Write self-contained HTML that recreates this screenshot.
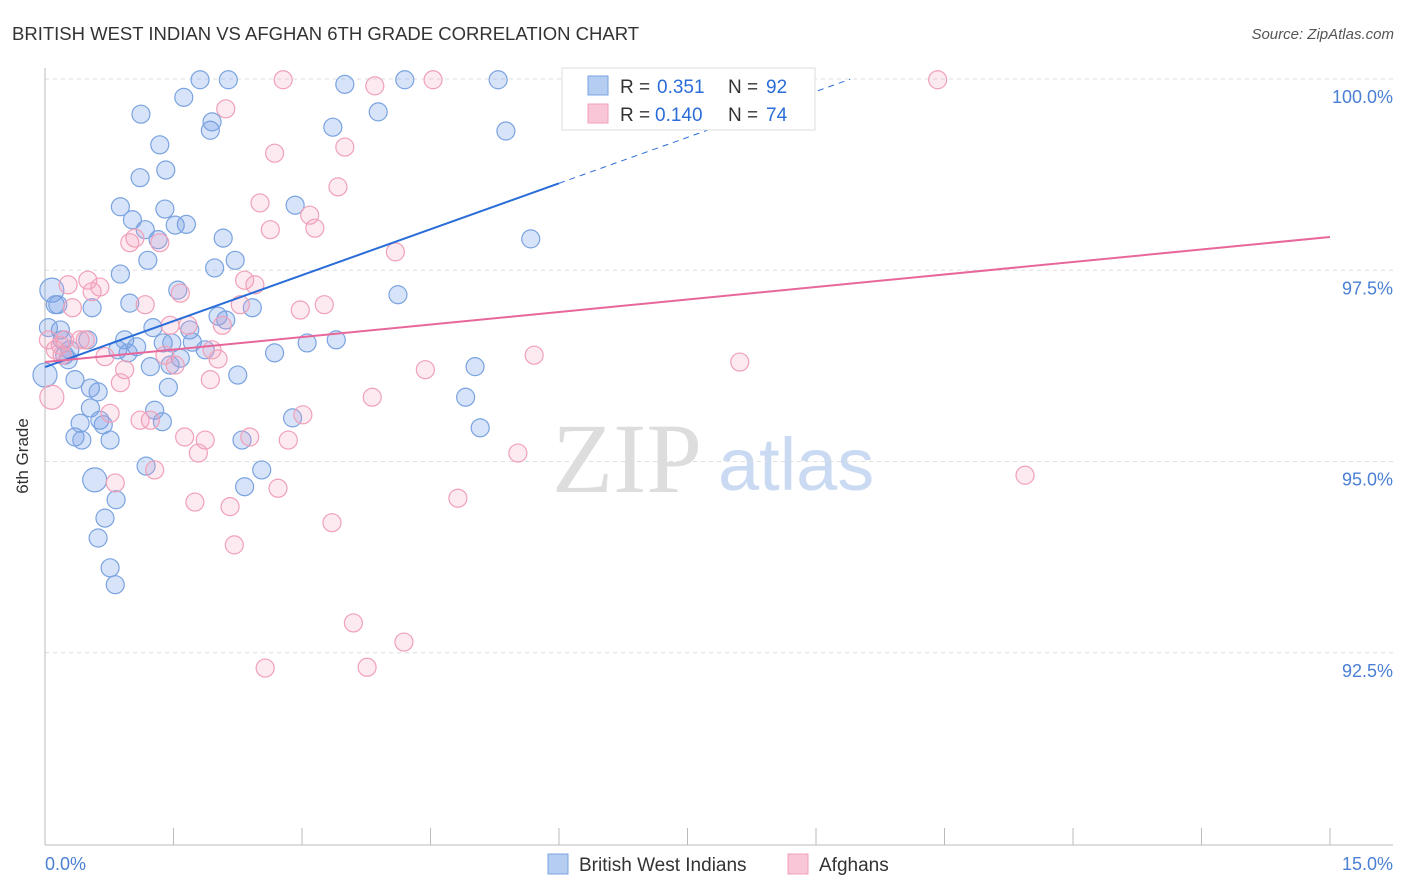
<!DOCTYPE html>
<html><head><meta charset="utf-8">
<style>
body{margin:0;background:#fff;font-family:"Liberation Sans",sans-serif;}
svg{display:block}
</style></head>
<body>
<svg id="chart" width="1406" height="892">
<text x="12" y="40" font-size="18.5" fill="#333">BRITISH WEST INDIAN VS AFGHAN 6TH GRADE CORRELATION CHART</text>
<text x="1394" y="39" font-size="15" fill="#555" font-style="italic" text-anchor="end">Source: ZipAtlas.com</text>
<text x="28" y="456" font-size="17" fill="#333" text-anchor="middle" transform="rotate(-90 28 456)">6th Grade</text>
<g>
<text x="552" y="492" font-size="100" fill="#ddd" font-family="Liberation Serif,serif">ZIP</text>
<text x="718" y="490" font-size="74" fill="#c9daf2">atlas</text>
</g>
<g id="grid"></g>
<g id="axes"></g>
<g id="pts"></g>
<g id="lines"></g>
<g>
<rect x="562" y="68" width="253" height="62" fill="#fff" stroke="#ddd"/>
<rect x="588" y="76" width="20" height="19" fill="#b6cdf2" stroke="#7aa3e0"/>
<rect x="588" y="104" width="20" height="19" fill="#f8c6d6" stroke="#f0a0b8"/>
<text x="620" y="93" font-size="19" fill="#333">R =</text>
<text x="657" y="93" font-size="19" fill="#2a6dd9">0.351</text>
<text x="728" y="93" font-size="19" fill="#333">N =</text>
<text x="766" y="93" font-size="19" fill="#2a6dd9">92</text>
<text x="620" y="121" font-size="19" fill="#333">R =</text>
<text x="655" y="121" font-size="19" fill="#2a6dd9">0.140</text>
<text x="728" y="121" font-size="19" fill="#333">N =</text>
<text x="766" y="121" font-size="19" fill="#2a6dd9">74</text>
</g>
<g>
<rect x="548" y="854" width="20" height="20" fill="#b6cdf2" stroke="#7aa3e0"/>
<text x="579" y="871" font-size="19" fill="#333">British West Indians</text>
<rect x="788" y="854" width="20" height="20" fill="#f8c6d6" stroke="#f0a0b8"/>
<text x="819" y="871" font-size="19" fill="#333">Afghans</text>
</g>
</svg>
<script>
const yTicks=[100,97.5,95,92.5];
const yTickLabels=["100.0%","97.5%","95.0%","92.5%"];
const xTickVals=[0,1.5,3,4.5,6,7.5,9,10.5,12,13.5,15];
const blueX=[0.08,0.12,0.15,0.18,0.20,0.23,0.27,0.29,0.35,0.41,0.35,0.43,0.50,0.53,0.53,0.55,0.58,0.62,0.64,0.68,0.62,0.70,0.76,0.76,0.82,0.83,0.85,0.88,0.88,0.93,0.97,0.99,1.02,1.07,1.11,1.12,1.17,1.18,1.20,1.23,1.26,1.28,1.32,1.34,1.37,1.38,1.40,1.41,1.44,1.46,1.48,1.52,1.55,1.58,1.62,1.65,1.69,1.72,1.81,1.87,1.93,1.95,1.98,2.02,2.08,2.11,2.14,2.22,2.25,2.30,2.33,2.42,2.53,2.68,2.89,2.92,3.06,3.36,3.40,3.50,3.89,4.12,4.20,4.91,5.02,5.08,5.29,5.38,5.67,0.00,0.04];
const blueY=[97.24,97.05,97.05,96.72,96.59,96.39,96.33,96.46,96.07,95.50,95.32,95.28,96.59,95.96,95.70,97.01,94.76,95.91,95.54,95.48,94.00,94.26,95.28,93.61,93.39,94.50,96.46,98.33,97.45,96.59,96.42,97.07,98.16,96.50,98.71,99.54,98.03,94.94,97.63,96.24,96.75,95.67,97.90,99.14,95.52,96.55,98.30,98.81,95.97,96.26,96.55,98.09,97.24,96.35,99.76,98.10,96.72,96.56,99.99,96.46,99.33,99.44,97.53,96.90,97.92,96.85,99.99,97.63,96.13,95.28,94.67,97.01,94.89,96.42,95.57,98.35,96.55,99.37,96.59,99.93,99.57,97.18,99.99,95.84,96.24,95.44,99.99,99.32,97.91,96.13,96.75];
const blueBig=[0,16,89];
const pinkX=[0.04,0.08,0.12,0.18,0.20,0.23,0.27,0.32,0.41,0.47,0.50,0.55,0.64,0.70,0.76,0.82,0.88,0.93,0.99,1.05,1.11,1.17,1.23,1.28,1.34,1.40,1.46,1.52,1.58,1.63,1.67,1.75,1.79,1.87,1.93,1.95,2.02,2.07,2.11,2.16,2.21,2.28,2.33,2.39,2.45,2.51,2.57,2.63,2.68,2.72,2.78,2.84,2.98,3.01,3.09,3.15,3.26,3.35,3.42,3.50,3.60,3.76,3.82,3.85,4.09,4.19,4.44,4.53,4.82,5.52,5.71,6.86,8.11,8.79,10.42,11.44];
const pinkY=[96.59,95.84,96.46,96.52,96.39,96.59,97.31,97.01,96.59,96.59,97.37,97.22,97.28,96.37,95.63,94.72,96.03,96.20,97.86,97.92,95.54,97.05,95.54,94.89,97.86,96.39,96.78,96.26,97.20,95.32,96.78,94.47,95.11,95.28,96.07,96.46,96.34,96.78,99.61,94.41,93.91,97.05,97.37,95.32,97.31,98.38,92.30,98.03,99.03,94.65,99.99,95.28,96.98,95.61,98.22,98.05,97.05,94.20,98.59,99.11,92.89,92.31,95.84,99.91,97.74,92.64,96.20,99.99,94.52,95.11,96.39,99.99,96.30,99.99,99.99,94.82];
const pinkBig=[1];
const blueTrend=[96.235,0.4003];
const pinkTrend=[96.30,0.109];
const X=v=>45+v/15*1285;
const Y=v=>79+(100-v)*76.5;
const NS="http://www.w3.org/2000/svg";
function mk(t,a,p){const e=document.createElementNS(NS,t);for(const k in a)e.setAttribute(k,a[k]);p.appendChild(e);return e;}
const grid=document.getElementById('grid'),axes=document.getElementById('axes'),pts=document.getElementById('pts'),lines=document.getElementById('lines');
yTicks.forEach((v,i)=>{
 const l=mk('line',{x1:45,x2:1393,y1:Y(v),y2:Y(v),stroke:'#ddd','stroke-dasharray':'4,4'},grid);
 
 
 const t=mk('text',{x:1393,y:Y(v)+24,'font-size':18,fill:'#4a7fd4','text-anchor':'end'},axes);
 t.textContent=yTickLabels[i];
 
 
});
mk('line',{x1:45,x2:45,y1:68,y2:845,stroke:'#bbb'},axes);
mk('line',{x1:45,x2:1393,y1:845,y2:845,stroke:'#bbb'},axes);
xTickVals.forEach(v=>{
 const l=mk('line',{x1:X(v),x2:X(v),y1:828,y2:845,stroke:'#bbb'},axes);
 
 
});
let t0=mk('text',{x:45,y:870,'font-size':18,fill:'#4a7fd4'},axes);t0.textContent='0.0%';


let t1=mk('text',{x:1393,y:870,'font-size':18,fill:'#4a7fd4','text-anchor':'end'},axes);t1.textContent='15.0%';


blueX.forEach((x,i)=>{
 const c=mk('circle',{cx:X(x),cy:Y(blueY[i]),r:blueBig.includes(i)?12:9,fill:'rgba(110,155,230,0.28)',stroke:'#7aa3e0','stroke-width':1.2},pts);
 
 
});
pinkX.forEach((x,i)=>{
 const c=mk('circle',{cx:X(x),cy:Y(pinkY[i]),r:pinkBig.includes(i)?12:9,fill:'rgba(245,160,190,0.22)',stroke:'#f0a0b8','stroke-width':1.2},pts);
 
 
});
const bEnd=6.0, bDash=9.4;
let bl=mk('line',{x1:X(0),y1:Y(blueTrend[0]),x2:X(bEnd),y2:Y(blueTrend[0]+blueTrend[1]*bEnd),stroke:'#2a6dd9','stroke-width':2},lines);


let bd=mk('line',{x1:X(bEnd),y1:Y(blueTrend[0]+blueTrend[1]*bEnd),x2:X(bDash),y2:Y(blueTrend[0]+blueTrend[1]*bDash),stroke:'#2a6dd9','stroke-width':1,'stroke-dasharray':'6,5'},lines);


let pl=mk('line',{x1:X(0),y1:Y(pinkTrend[0]),x2:X(15),y2:Y(pinkTrend[0]+pinkTrend[1]*15),stroke:'#e8679a','stroke-width':2},lines);


</script>
</body></html>
